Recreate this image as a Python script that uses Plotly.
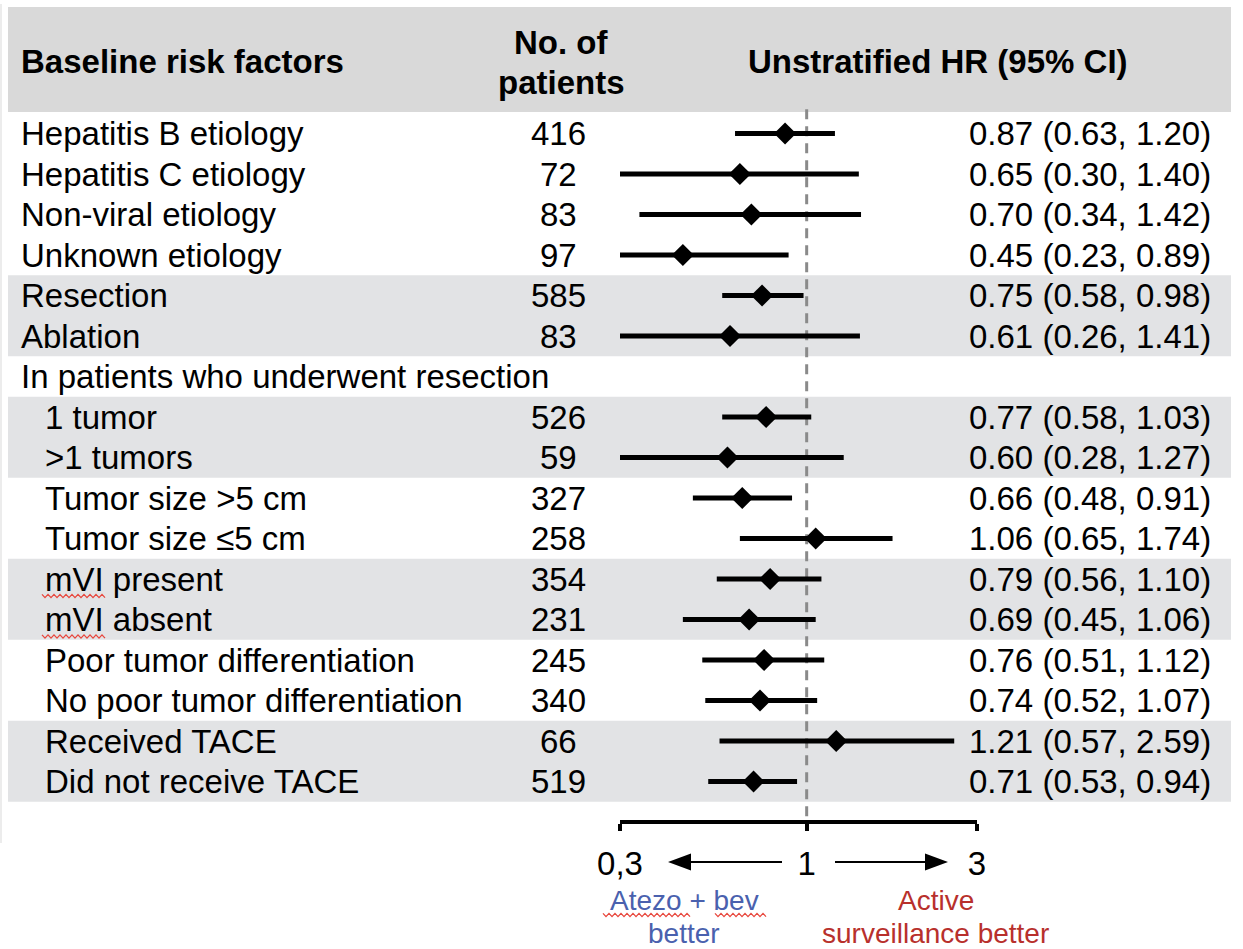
import math
import plotly.graph_objects as go

# ---- data -----------------------------------------------------------------
factors = [
    "Hepatitis B etiology", "Hepatitis C etiology", "Non-viral etiology",
    "Unknown etiology", "Resection", "Ablation",
    "In patients who underwent resection",
    "1 tumor", ">1 tumors", "Tumor size >5 cm", "Tumor size ≤5 cm",
    "mVI present", "mVI absent", "Poor tumor differentiation",
    "No poor tumor differentiation", "Received TACE", "Did not receive TACE",
]
n_patients = [416, 72, 83, 97, 585, 83, None, 526, 59, 327, 258, 354, 231,
              245, 340, 66, 519]
hr = [0.87, 0.65, 0.70, 0.45, 0.75, 0.61, None, 0.77, 0.60, 0.66, 1.06,
      0.79, 0.69, 0.76, 0.74, 1.21, 0.71]
ci_low = [0.63, 0.30, 0.34, 0.23, 0.58, 0.26, None, 0.58, 0.28, 0.48, 0.65,
          0.56, 0.45, 0.51, 0.52, 0.57, 0.53]
ci_high = [1.20, 1.40, 1.42, 0.89, 0.98, 1.41, None, 1.03, 1.27, 0.91, 1.74,
           1.10, 1.06, 1.12, 1.07, 2.59, 0.94]
axis_ticks = [0.3, 1, 3]
axis_tick_labels = ["0,3", "1", "3"]

# ---- layout helpers ----------------------------------------------------------
W, H = 1243, 949
FONT = "Liberation Sans, Arial, Helvetica, sans-serif"
FS = 33
ROW0, PITCH = 133.5, 40.5          # pixel centre of first row, row pitch
AXIS_Y = 822                       # pixel row of the HR axis


def px(x):
    return x / W


def py(y):
    return 1 - y / H


rows = list(range(1, len(factors) + 1))
y_top = 1 - ROW0 / PITCH
y_bottom = 1 + (H - ROW0) / PITCH
sub_start = factors.index("In patients who underwent resection")

fig = go.Figure()

# reference line at HR = 1
fig.add_trace(go.Scatter(
    x=[1, 1], y=[0.4, 1 + (AXIS_Y - ROW0) / PITCH], mode="lines",
    line=dict(color="#8a8a8a", width=3, dash="10px,7px"),
    hoverinfo="skip", showlegend=False))

# confidence intervals
ci_x, ci_y = [], []
for r, lo, hi in zip(rows, ci_low, ci_high):
    if lo is None:
        continue
    ci_x += [lo, hi, None]
    ci_y += [r, r, None]
fig.add_trace(go.Scatter(
    x=ci_x, y=ci_y, mode="lines", line=dict(color="black", width=5),
    hoverinfo="skip", showlegend=False))

# point estimates
pts = [(h, r) for h, r in zip(hr, rows) if h is not None]
fig.add_trace(go.Scatter(
    x=[p[0] for p in pts], y=[p[1] for p in pts], mode="markers",
    marker=dict(symbol="diamond", size=17, color="black", line_width=0),
    showlegend=False))

shapes = []
# header band
shapes.append(dict(type="rect", xref="paper", yref="paper",
                   x0=px(8), x1=px(1231), y0=py(112), y1=py(7),
                   fillcolor="#d9d9d9", line_width=0, layer="below"))
# shaded row pairs
for a, b in [(5, 6), (8, 9), (12, 13), (16, 17)]:
    shapes.append(dict(type="rect", xref="paper", yref="y",
                       x0=px(8), x1=px(1231), y0=a - 0.5, y1=b + 0.5,
                       fillcolor="#e2e3e5", line_width=0, layer="below"))
# faint left border
shapes.append(dict(type="line", xref="paper", yref="paper",
                   x0=px(1), x1=px(1), y0=py(4), y1=py(843),
                   line=dict(color="#e6e6e6", width=1.5)))


def arrow(x_tail, x_tip, y):
    d = 1 if x_tip > x_tail else -1
    base = x_tip - d * 23
    shapes.append(dict(type="line", xref="paper", yref="paper",
                       x0=px(x_tail), x1=px(base), y0=py(y), y1=py(y),
                       line=dict(color="black", width=2)))
    path = (f"M{px(x_tip)},{py(y)} L{px(base)},{py(y - 8.5)} "
            f"L{px(base)},{py(y + 8.5)} Z")
    shapes.append(dict(type="path", xref="paper", yref="paper", path=path,
                       fillcolor="black", line_width=0))


arrow(782, 668, 862)
arrow(835, 948, 862)


def squiggle(x0, x1, y):
    pts_ = []
    x, k = x0, 0
    while x <= x1:
        pts_.append(f"{px(x):.5f},{py(y + (1.6 if k % 2 else -1.6)):.5f}")
        x += 3
        k += 1
    shapes.append(dict(type="path", xref="paper", yref="paper",
                       path="M" + " L".join(pts_),
                       line=dict(color="#e8473d", width=1.3)))


row_px = lambda r: ROW0 + (r - 1) * PITCH
squiggle(42, 106, row_px(12) + 17)
squiggle(42, 106, row_px(13) + 17)
squiggle(603, 690, 915)
squiggle(715, 767, 915)

ann = []


def text(x, y, s, anchor="left", yref="paper", size=FS, color="black"):
    ann.append(dict(x=x, y=y, xref="paper", yref=yref, text=s,
                    showarrow=False, xanchor=anchor, yanchor="middle",
                    font=dict(family=FONT, size=size, color=color)))


# column headers
text(px(19), py(62), "<b>Baseline risk factors</b>")
text(px(561), py(42), "<b>No. of</b>", anchor="center")
text(px(561), py(82), "<b>patients</b>", anchor="center")
text(px(938), py(62), "<b>Unstratified HR (95% CI)</b>", anchor="center")

# table body
for i, r in enumerate(rows):
    x0 = 43 if i > sub_start else 19
    text(px(x0), r, factors[i], yref="y")
    if n_patients[i] is not None:
        text(px(558), r, str(n_patients[i]), anchor="center", yref="y")
    if hr[i] is not None:
        text(px(1213), r, f"{hr[i]:.2f} ({ci_low[i]:.2f}, {ci_high[i]:.2f})",
             anchor="right", yref="y")

# direction labels
BLUE, RED = "#4a61ae", "#b8302c"
text(px(684), py(900), "Atezo + bev", anchor="center", size=28, color=BLUE)
text(px(684), py(933), "better", anchor="center", size=28, color=BLUE)
text(px(936), py(900), "Active", anchor="center", size=28, color=RED)
text(px(936), py(933), "surveillance better", anchor="center", size=28,
     color=RED)

fig.update_layout(
    width=W, height=H, autosize=False,
    margin=dict(l=0, r=0, t=0, b=0, autoexpand=False),
    paper_bgcolor="white", plot_bgcolor="rgba(0,0,0,0)",
    shapes=shapes, annotations=ann,
    xaxis=dict(
        type="log", range=[math.log10(0.3), math.log10(3)],
        domain=[620 / W, 977 / W], anchor="free",
        position=(H - AXIS_Y) / H, automargin=False,
        showline=True, linecolor="black", linewidth=4,
        ticks="outside", ticklen=7, tickwidth=4, tickcolor="black",
        tickvals=axis_ticks, ticktext=axis_tick_labels,
        tickfont=dict(family=FONT, size=FS, color="black"),
        ticklabelstandoff=4,
        showgrid=False, zeroline=False, fixedrange=True),
    yaxis=dict(range=[y_bottom, y_top], domain=[0, 1], visible=False,
               automargin=False, fixedrange=True),
)

fig.write_html("out.html")
